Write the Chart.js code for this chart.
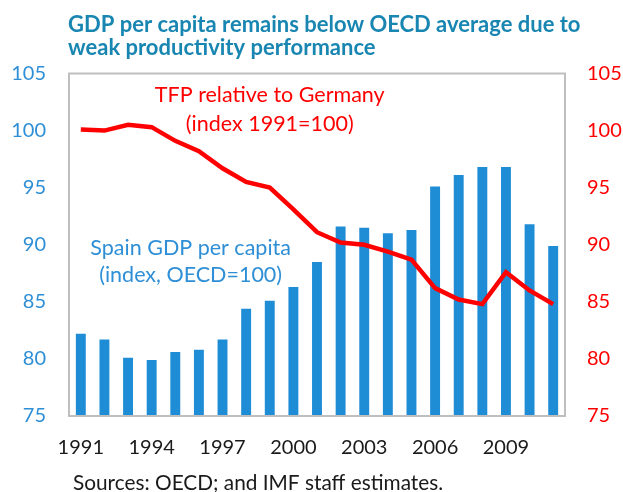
<!DOCTYPE html>
<html>
<head>
<meta charset="utf-8">
<script src="https://cdn.jsdelivr.net/npm/chart.js@4.4.1/dist/chart.umd.min.js"></script>
<style>
  html, body { margin: 0; padding: 0; background: #fff; }
  #wrap { width: 623px; height: 492px; position: relative; }
</style>
</head>
<body>
<div id="wrap"><canvas id="gdpChart" width="623" height="492"></canvas></div>
<script>
const years = [
  '1991', '1992', '1993', '1994', '1995', '1996', '1997', '1998', '1999', '2000',
  '2001', '2002', '2003', '2004', '2005', '2006', '2007', '2008', '2009', '2010', '2011'
];

// Spain GDP per capita (index, OECD=100)
const gdpValues = [
  82.2, 81.7, 80.1, 79.9, 80.6, 80.8, 81.7, 84.4, 85.1, 86.3,
  88.5, 91.6, 91.5, 91.0, 91.3, 95.1, 96.1, 96.8, 96.8, 91.8, 89.9
];

// TFP relative to Germany (index 1991=100)
const tfpValues = [
  100.1, 100.0, 100.5, 100.3, 99.1, 98.2, 96.7, 95.5, 95.0, 93.1,
  91.1, 90.2, 90.0, 89.4, 88.7, 86.2, 85.2, 84.8, 87.6, 86.0, 84.8
];

const yTicks = [75, 80, 85, 90, 95, 100, 105];

const titleLines = [
  'GDP per capita remains below OECD average due to',
  'weak productivity performance'
];
const sourceNote = 'Sources: OECD; and IMF staff estimates.';

const blue = '#1F8DD6';
const tickBlue = '#2E8FD6';
const red = '#FF0000';
const font = 'Lato, "Open Sans", sans-serif';

// text drawn on the chart: title, in-plot labels, source
const textPlugin = {
  id: 'chartText',
  afterDraw(chart) {
    const ctx = chart.ctx;
    const area = chart.chartArea;
    const x = chart.scales.x;
    const y = chart.scales.y;
    ctx.save();
    ctx.textBaseline = 'alphabetic';

    // plot frame
    ctx.strokeStyle = '#BFBFBF';
    ctx.lineWidth = 2;
    ctx.strokeRect(area.left, area.top, area.right - area.left, area.bottom - area.top);

    ctx.fillStyle = '#1986B2';
    ctx.textAlign = 'left';
    ctx.font = 'bold 22px ' + font;
    ctx.fillText(titleLines[0], area.left - 1, 32);
    ctx.fillText(titleLines[1], area.left - 1, 55);

    ctx.textAlign = 'center';
    ctx.font = '21.5px ' + font;
    ctx.fillStyle = red;
    ctx.fillText('TFP relative to Germany', x.getPixelForValue(8), y.getPixelForValue(102.5));
    ctx.fillText('(index 1991=100)', x.getPixelForValue(8), y.getPixelForValue(100.0));

    ctx.fillStyle = tickBlue;
    ctx.fillText('Spain GDP per capita', x.getPixelForValue(4.65), y.getPixelForValue(89.1));
    ctx.fillText('(index, OECD=100)', x.getPixelForValue(4.65), y.getPixelForValue(86.7));

    ctx.fillStyle = '#1A1A1A';
    ctx.textAlign = 'left';
    ctx.font = '20.8px ' + font;
    ctx.fillText(sourceNote, 73, 490);
    ctx.restore();
  }
};

const chartData = {
  labels: years,
  datasets: [
    {
      type: 'line',
      label: 'TFP relative to Germany',
      data: tfpValues,
      yAxisID: 'y1',
      borderColor: red,
      borderWidth: 4.5,
      pointRadius: 0,
      tension: 0,
      order: 0
    },
    {
      type: 'bar',
      label: 'Spain GDP per capita',
      data: gdpValues,
      yAxisID: 'y',
      backgroundColor: blue,
      barPercentage: 0.42,
      categoryPercentage: 1,
      order: 1
    }
  ]
};

const chartOptions = {
  responsive: false,
  animation: false,
  layout: { padding: { top: 73.5, bottom: 0, left: 0, right: 0 } },
  plugins: {
    legend: { display: false },
    title: { display: false },
    tooltip: { enabled: false }
  },
  scales: {
    x: {
      grid: { display: false, drawTicks: false },
      border: { display: false },
      ticks: {
        autoSkip: false,
        maxRotation: 0,
        padding: 20,
        color: '#1A1A1A',
        font: { family: font, size: 20 },
        callback: function (val, i) { return i % 3 === 0 ? years[i] : ''; }
      },
      afterFit(scale) { scale.height = 76; }
    },
    y: {
      position: 'left',
      min: 75,
      max: 105,
      grid: { display: false, drawTicks: false },
      border: { display: false },
      afterBuildTicks(scale) { scale.ticks = yTicks.map(v => ({ value: v })); },
      ticks: {
        padding: 23,
        color: tickBlue,
        font: { family: font, size: 20 }
      },
      afterFit(scale) { scale.width = 69; }
    },
    y1: {
      position: 'right',
      min: 75,
      max: 105,
      grid: { display: false, drawTicks: false },
      border: { display: false },
      afterBuildTicks(scale) { scale.ticks = yTicks.map(v => ({ value: v })); },
      ticks: {
        padding: 22,
        color: red,
        font: { family: font, size: 20 }
      },
      afterFit(scale) { scale.width = 58; }
    }
  }
};

const gdpChart = new Chart(document.getElementById('gdpChart'), {
  data: chartData,
  options: chartOptions,
  plugins: [textPlugin]
});
</script>
</body>
</html>
